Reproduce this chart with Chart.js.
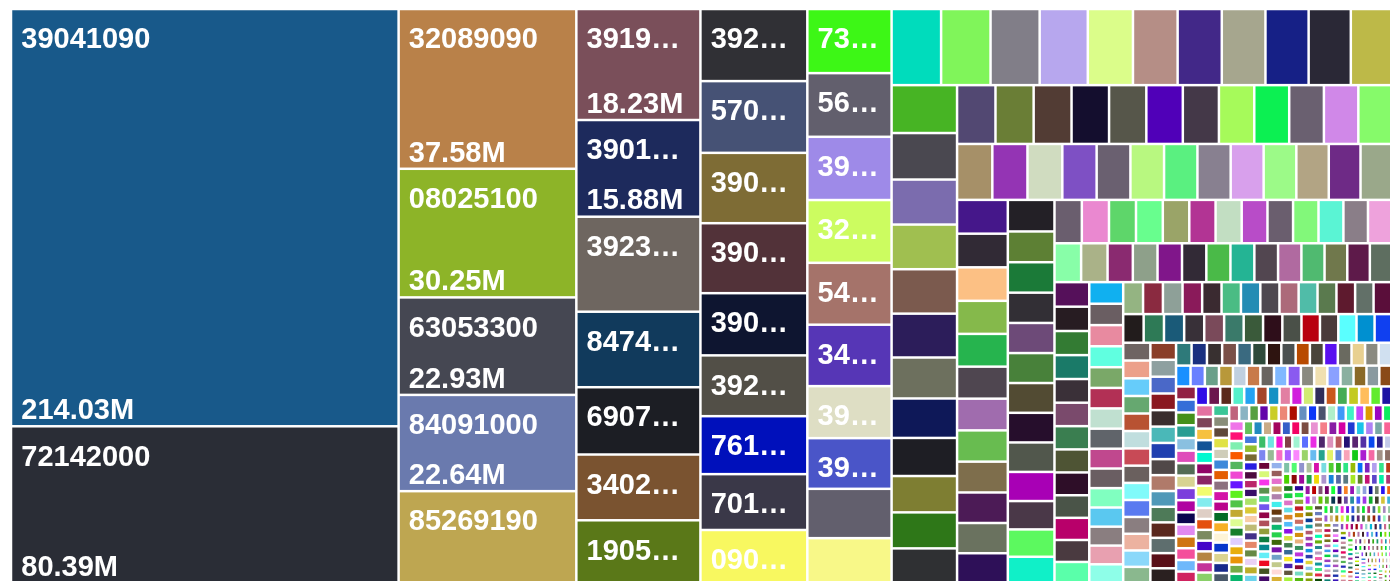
<!DOCTYPE html>
<html>
<head>
<meta charset="utf-8">
<title>Exports by HS code</title>
<script src="https://cdn.jsdelivr.net/npm/chart.js@4.4.1/dist/chart.umd.min.js"></script>
<style>
  html, body { margin: 0; padding: 0; background: #fff; overflow: hidden; }
  #wrap { position: absolute; left: 11px; top: 9px; width: 1381px; height: 574px; }
</style>
</head>
<body>
<div id="wrap"><canvas id="treemap"></canvas></div>
<script>
// HS codes of the tiles that are big enough to carry a label
const codes = [
  '39041090', '72142000',
  '32089090', '08025100', '63053300', '84091000', '85269190',
  '39199090', '39019090', '39239090', '84749000', '69072100', '34029090', '19059090',
  '39269099', '57033000', '39023000', '39014000', '39021000', '39201090', '76169990', '70109000', '09011100',
  '73269099', '56031200', '39172900', '32041700', '54023300', '34049000', '39206200', '39100000', '85044090', '63079090'
];
// trade value of those tiles, US$ millions
const codeValues = [
  214.03, 80.39,
  37.58, 30.25, 22.93, 22.64, 21.6,
  18.23, 15.88, 15.6, 12.4, 11.05, 10.8, 10.3,
  10.2, 10.15, 9.95, 9.9, 8.8, 8.6, 8.2, 7.9, 7.5,
  7.15, 7.1, 7.05, 7.0, 6.9, 6.85, 5.8, 5.65, 5.5, 5.0
];

const band5to2 = [
  4.99, 4.98, 4.95, 4.85, 4.55, 4.5, 4.45, 4.4, 4.35, 4.25, 4.15,
  4.15, 4.03, 3.9, 3.87, 3.85, 3.8, 3.55, 3.42, 3.3, 3.15, 3.12, 3.0,
  2.99, 2.97, 2.95, 2.92, 2.9, 2.84, 2.81, 2.75, 2.72, 2.7, 2.68, 2.62,
  2.61, 2.6, 2.58, 2.54, 2.5, 2.49, 2.47, 2.46, 2.44, 2.42, 2.4, 2.35, 2.33,
  2.27, 2.26, 2.25, 2.22, 2.2, 2.15, 2.13, 2.1, 2.07, 2.05, 2.03, 2.0
];
const band2to06 = [
  1.95, 1.9, 1.88, 1.87, 1.86, 1.85, 1.84, 1.83, 1.82, 1.8, 1.75, 1.69, 1.62,
  1.57, 1.56, 1.55, 1.54, 1.52, 1.51, 1.5, 1.48, 1.47, 1.46, 1.43, 1.41, 1.38,
  1.37, 1.36, 1.3, 1.27, 1.26, 1.25, 1.24, 1.23, 1.22, 1.2, 1.19, 1.17, 1.16, 1.14,
  1.13, 1.12, 1.11, 1.1, 1.09, 1.08, 1.07, 1.06, 1.05, 1.04, 1.02, 1.01, 0.97,
  0.97, 0.96, 0.95, 0.94, 0.93, 0.92, 0.91, 0.9, 0.89, 0.88, 0.87, 0.86, 0.85, 0.84,
  0.84, 0.84, 0.84, 0.83, 0.83, 0.82, 0.82, 0.82, 0.81, 0.81, 0.8, 0.8, 0.79, 0.78,
  0.78, 0.775, 0.77, 0.765, 0.76, 0.755, 0.74, 0.735, 0.73, 0.725, 0.7, 0.695, 0.69, 0.685, 0.66,
  0.64, 0.64, 0.635, 0.63, 0.63, 0.625, 0.62, 0.62, 0.615, 0.61, 0.605, 0.6, 0.59, 0.58
];
const band06to03 = [
  0.58, 0.575, 0.57, 0.565, 0.56, 0.555, 0.55, 0.545, 0.54, 0.535, 0.53, 0.525, 0.52, 0.515, 0.5,
  0.47, 0.465, 0.46, 0.455, 0.45, 0.445, 0.44, 0.435, 0.43, 0.425, 0.42, 0.415, 0.41, 0.41, 0.405,
  0.4, 0.395, 0.39, 0.385, 0.38, 0.378, 0.375, 0.372, 0.37, 0.367, 0.365, 0.362, 0.36, 0.357, 0.355, 0.35,
  0.345, 0.34, 0.338, 0.335, 0.333, 0.33, 0.328, 0.325, 0.323, 0.32, 0.318, 0.315, 0.313, 0.31
];
const band03to015 = [
  .305, .302, .301, .298, .297, .295, .292, .291, .289, .286, .285, .283, .281, .278, .277, .275, .273, .27, .269, .267,
  .265, .262, .261, .259, .257, .254, .253, .251, .249, .246, .245, .243, .241, .238, .237, .235, .233, .23, .229, .227,
  .226, .225, .224, .222, .222, .221, .219, .218, .217, .216, .215, .213, .212, .212, .21, .209, .208, .206, .205, .205,
  .203, .202, .201, .2, .198, .197, .197, .195, .194, .193, .192, .19, .189, .189, .187, .186, .185, .184, .183, .182,
  .181, .18, .18, .179, .178, .178, .177, .177, .177, .176,
  .175, .175, .174, .173, .173, .172, .171, .171, .17, .169, .169, .168, .167, .167, .166, .165, .165, .164, .163, .163,
  .162, .161, .161, .16, .159, .159, .158, .157, .157, .156, .155, .155, .154, .153, .153, .152, .151, .151, .15
];
const band015to01 = [
  .149, .149, .148, .148, .147, .147, .146, .146, .145, .145, .144, .144, .143, .143, .142, .142, .141, .141, .14, .14,
  .139, .139, .138, .138, .137, .137, .136, .136, .135, .134, .134, .133, .132, .132, .131, .131, .13, .129, .129, .128,
  .127, .127, .126, .126, .125, .124, .124, .123, .123, .122, .121, .121, .12, .12, .119, .118, .118, .117, .117, .116,
  .116, .115, .114, .114, .113, .113, .112, .112, .111, .111, .11, .11, .109, .108, .108, .107, .107, .106, .106, .105,
  .105, .104, .104, .103, .103, .102, .102, .101, .101, .1, .1
];
const bandUnder01 = [
  .099, .099, .098, .098, .097, .097, .096, .096, .095, .095, .094, .094, .093, .093, .092, .092, .091, .091, .09, .09,
  .089, .089, .088, .088, .087, .087, .087, .086, .086, .085, .085, .084, .084, .084, .083, .083, .082, .082, .081, .081,
  .081, .08, .08, .079, .079, .079, .078, .078, .077, .077, .077, .076, .076, .075, .075, .075, .074, .074, .073, .073,
  .073, .072, .072, .072, .071, .071, .07, .07, .07, .069, .069, .069, .068, .068, .067, .067, .067, .066, .066, .066,
  .065, .065, .065, .064, .064, .064, .063, .063, .063, .062, .062, .062, .061, .061, .061, .06, .06, .06, .059, .059,
  .059, .058, .058, .058, .057, .057, .057, .056, .056, .056, .056, .055, .055, .055, .054, .054, .054, .053, .053, .053,
  .053, .052, .052, .052, .051, .051, .051, .051, .05, .05, .05, .049, .049, .049, .049, .048, .048, .048, .047, .047,
  .047, .047, .046, .046, .046, .046, .045, .045, .045, .045, .044, .044, .044, .044, .043, .043, .043, .043, .042, .042,
  .041, .041, .041, .04, .04, .04, .04, .039, .039, .039, .039, .038, .038, .038, .038, .037, .037, .037, .037, .036,
  .036, .036, .036, .036, .035, .035, .035, .035, .034, .034, .034, .034, .034, .033, .033, .033, .033, .033, .032, .032,
  .032, .032, .032, .031, .031, .031, .031, .031, .03, .03, .03, .03, .03, .03, .029, .029, .029, .029, .029, .029,
  .028, .028, .028, .028, .028, .028, .027, .027, .027, .027, .027, .027, .026, .026, .026, .026, .026, .026, .025, .025
];

// tile colours, in value order; the rest get a stable pseudo-random colour
const tileColors = [
  '#18598a', '#2a2d36', '#b98149', '#8db428', '#454752', '#6a7aae', '#bea651',
  '#7a4f5a', '#1d2a5c', '#6e6660', '#113a5c', '#1c1e24', '#7a5330', '#5a7818',
  '#303035', '#465275', '#7e6c35', '#523239', '#0e1530', '#524f47', '#0010bb', '#3a3848', '#f8f860',
  '#3df716', '#625f6d', '#9e8ae8', '#ccfc60', '#a5736a', '#5636b6', '#dedec4', '#4a55c8', '#625f6d', '#f8f888',
  '#00dcbc', '#80f55a', '#817e88', '#b7a7ee', '#dbfd8a', '#b58e86', '#422888', '#a6a68e', '#162086', '#2a2836', '#bdb948',
  '#47b424', '#4a4850', '#7b6cae', '#a0bf50', '#7b5a4e', '#2c1d5a', '#6d705e', '#0e1858', '#1e1e24', '#7e7e32', '#2e7718', '#2f3033',
  '#524872', '#6a7e36', '#523c34', '#140e2e', '#56564a', '#5000b8', '#443848', '#a6fa5a', '#0cf052', '#6a6070', '#d088e8', '#86fa6a',
  '#a69068', '#9434b4', '#d0dcc0', '#7e50c4', '#6a6070', '#b8f880', '#5af080', '#888090', '#d8a0ec', '#9cfa88', '#b2a484', '#6e2a86', '#9aa88a',
  '#45178a', '#312a35', '#fcc084', '#85b94b', '#26b44e', '#4f4650', '#a06cae', '#68bc50', '#7e6e4c', '#4c1b56', '#6a725f', '#2e1058',
  '#232026', '#5d8034', '#1b7a38', '#322f35', '#6d4a78', '#48813a', '#524b33', '#260e2c', '#51574c', '#a800b5', '#4a3848', '#5cf95f', '#10f0c8',
  '#6a5e6e', '#ea88d0', '#5ed66a', '#68fe8e', '#9aa468', '#b23494', '#c2dec2', '#b84cc8', '#6a5e6e', '#82f87a', '#5af4d4', '#8a7e88', '#eea2dc',
  '#88fea8', '#aab288', '#8a2a70', '#8ea08a', '#80168a', '#322a36', '#4aba48', '#24b494', '#524650', '#b06aa0', '#50ba70', '#70784c', '#5e1a4a', '#5e6e60',
  '#55105a', '#271c22', '#337b33', '#1a7a68', '#3a3038', '#7a4a6c', '#3a7e50', '#4e5434', '#2e0e28', '#4a5448', '#b8006a', '#4a3a40', '#5affaa',
  '#10b0f0', '#6a5e62', '#e88aa0', '#60ffe0', '#7aa868', '#b23055', '#c0e0d0', '#60646a', '#c0488e', '#6a5e62', '#80ffc0', '#5ac8f0', '#8a7e80', '#e8a0b0',
  '#8efee8', '#94b482', '#8a2a40', '#8ea098', '#8a1a5a', '#3a2a30', '#4abc84', '#248cb4', '#4e4850', '#ac6a7a', '#50bca8', '#5a7a4e', '#5e1a2e', '#627068',
  '#5a0e3a', '#221c1c', '#2e7a56', '#1a5a78', '#383038', '#7a4a5a', '#3a7a6a', '#3a5a3a', '#2e0e1a', '#4a5048', '#b80010', '#4a3a3a', '#5affff', '#0090d0', '#1040f0',
  '#6e6462', '#eca08a', '#66ccfa', '#66a870', '#b85232', '#c0dede', '#c84a56', '#6a605e', '#80fafa', '#5a7af0', '#8a7e80', '#ecb2a0', '#8ad8fa', '#8ab88e',
  '#8a3e28', '#8ea0a0', '#4a68c8', '#8a1820', '#3a2e2e', '#4ab8b8', '#2040b0', '#504848', '#b07a6a', '#5098b8', '#4e7a58', '#5a281e', '#5e6e6e', '#5a1018', '#2a2020',
  '#2e7a7a', '#1a3080', '#383030', '#7a5048', '#3a6a80', '#2e4a3a', '#2e1410', '#4a5050', '#b84a00', '#4a443a', '#5a10f0', '#6a6a60', '#e8d090', '#8a8a80', '#d0e0f0',
  '#1a90ff', '#6a80ff', '#6aa08a', '#b8983a', '#c0d0e0', '#c87a4a', '#6a6460', '#80b8ff', '#8a5af0', '#8a8a80', '#f0e0b0', '#8aa0ff', '#8ab0a0', '#8a6a28', '#8a9aa0', '#8a4a18'
];

function tileColor(i) {
  if (i < tileColors.length) return tileColors[i];
  let s = (Math.imul(i + 101, 2654435761) >>> 0) || 1;
  const rnd = () => { s ^= s << 13; s ^= s >>> 17; s ^= s << 5; return ((s >>> 0) % 256); };
  rnd(); rnd();
  const hex = v => v.toString(16).padStart(2, '0');
  return '#' + hex(rnd()) + hex(rnd()) + hex(rnd());
}

// build tiles, biggest first
const tiles = codeValues.map((v, i) => ({ code: codes[i], value: v }))
  .concat([...band5to2, ...band2to06, ...band06to03, ...band03to015, ...band015to01, ...bandUnder01]
    .map(v => ({ code: '', value: v })))
  .sort((a, b) => b.value - a.value);

// squarified layout with a golden-ratio target, rows fill the short side
function squarify(vals, box, ratio) {
  const total = vals.reduce((s, v) => s + v, 0);
  const k = box.w * box.h / total;
  const rect = { x: box.x, y: box.y, w: box.w, h: box.h };
  const out = [];
  let row = [], rowArea = 0, best = Infinity;
  let fixed = Math.min(rect.w, rect.h);

  const worst = () => {
    const f = fixed * fixed * ratio, sq = rowArea * rowArea;
    return Math.max(f * row[0].area / sq, sq / (f * row[row.length - 1].area));
  };
  const place = (flush) => {
    const horiz = fixed === rect.w;
    const span = horiz ? rect.h : rect.w;
    let other = fixed ? rowArea / fixed : 0;
    if (flush || other > span) other = span;
    let last = horiz ? rect.x : rect.y;
    const end = horiz ? rect.x + rect.w : rect.y + rect.h;
    row.forEach((r, j) => {
      const step = other ? r.area / other : 0;
      const remain = end - last;
      const len = (j === row.length - 1 || remain < step) ? remain : step;
      out[r.i] = horiz ? { x: last, y: rect.y, w: len, h: other } : { x: rect.x, y: last, w: other, h: len };
      last += len;
    });
    if (horiz) { rect.y += other; rect.h -= other; } else { rect.x += other; rect.w -= other; }
  };

  let i = 0;
  while (i < vals.length) {
    const r = { i, area: vals[i] * k };
    row.push(r);
    rowArea += r.area;
    const score = worst();
    if (score <= best || row.length === 1) {
      i++;
      best = score;
    } else {
      row.pop();
      rowArea -= r.area;
      place(false);
      fixed = Math.min(rect.w, rect.h);
      row = []; rowArea = 0; best = Infinity;
    }
  }
  if (row.length) place(true);
  return out;
}

function fitText(ctx, text, maxW) {
  if (ctx.measureText(text).width <= maxW) return text;
  for (let n = text.length - 1; n >= 2; n--) {
    const t = text.slice(0, n) + '\u2026';
    if (ctx.measureText(t).width <= maxW) return t;
  }
  return null;
}

class TileElement extends Chart.Element {
  static id = 'tile';
  static defaults = {};
  draw(ctx) {
    if (!(this.w > 0 && this.h > 0)) return;
    ctx.fillStyle = this.color;
    ctx.fillRect(this.x, this.y, this.w, this.h);
  }
}

class TreemapController extends Chart.DatasetController {
  static id = 'treemap';
  static defaults = { datasetElementType: false, dataElementType: 'tile' };

  parse(start, count) {
    const meta = this._cachedMeta;
    const data = this.getDataset().data;
    for (let i = start; i < start + count; i++) meta._parsed[i] = { x: i, y: data[i] };
  }

  update(mode) {
    const meta = this._cachedMeta;
    this.updateElements(meta.data, 0, meta.data.length, mode);
  }

  updateElements(els, start, count, mode) {
    const { xScale, yScale } = this._cachedMeta;
    const ds = this.getDataset();
    const w = xScale.max - xScale.min, h = yScale.max - yScale.min;
    if (!isFinite(w) || !isFinite(h) || w <= 0 || h <= 0) return;
    const cells = squarify(ds.data, { x: xScale.min, y: yScale.min, w, h }, ds.squareRatio);
    const g = ds.spacing;
    for (let i = start; i < start + count; i++) {
      const c = cells[i];
      const x0 = xScale.getPixelForValue(c.x), x1 = xScale.getPixelForValue(c.x + c.w);
      const y0 = yScale.getPixelForValue(c.y), y1 = yScale.getPixelForValue(c.y + c.h);
      const gx = Math.min(g, (x1 - x0) / 2), gy = Math.min(g, (y1 - y0) / 2);
      this.updateElement(els[i], i, {
        x: x0 + gx, y: y0 + gy, w: x1 - x0 - 2 * gx, h: y1 - y0 - 2 * gy,
        cellH: y1 - y0,
        value: ds.data[i],
        code: ds.codes[i],
        color: ds.backgroundColor[i]
      }, 'none');
    }
  }

  draw() {
    super.draw();
    const ctx = this.chart.ctx;
    const lab = this.getDataset().tileLabels;
    ctx.save();
    ctx.fillStyle = lab.color;
    ctx.font = lab.font;
    ctx.textBaseline = 'alphabetic';
    this._cachedMeta.data.forEach(t => {
      if (!t.code || t.cellH < lab.minHeight) return;
      const text = fitText(ctx, t.code, t.w - 2 * lab.padX);
      if (!text) return;
      ctx.fillText(text, t.x + lab.padX, t.y + lab.top);
      if (t.cellH >= lab.valueMinHeight) {
        ctx.fillText(t.value.toFixed(2) + 'M', t.x + lab.padX, t.y + t.h - lab.bottom);
      }
    });
    ctx.restore();
  }
}

Chart.register(TileElement, TreemapController);

new Chart(document.getElementById('treemap'), {
  type: 'treemap',
  data: {
    datasets: [{
      data: tiles.map(t => t.value),
      codes: tiles.map(t => t.code),
      backgroundColor: tiles.map((t, i) => tileColor(i)),
      squareRatio: 0.5 * (1 + Math.sqrt(5)),
      spacing: 1.25,
      tileLabels: {
        font: 'bold 29px "Liberation Sans", Arial, sans-serif',
        color: '#fff',
        padX: 9,
        top: 38,
        bottom: 6,
        minHeight: 50,
        valueMinHeight: 95.5
      }
    }]
  },
  options: {
    responsive: true,
    maintainAspectRatio: false,
    animation: false,
    events: [],
    layout: { padding: 0 },
    scales: {
      x: { type: 'linear', min: 0, max: 1381, display: false },
      y: { type: 'linear', min: 0, max: 574, reverse: true, display: false }
    },
    plugins: {
      legend: false,
      tooltip: false,
      colors: { enabled: false }
    }
  }
});
</script>
</body>
</html>
